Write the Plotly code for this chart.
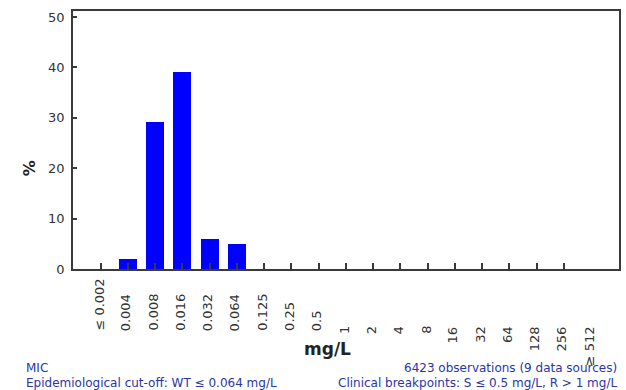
import plotly.graph_objects as go

# MIC distribution (percent of isolates per concentration class)
mic_labels = ["≤ 0.002", "0.004", "0.008", "0.016", "0.032", "0.064", "0.125", "0.25", "0.5",
              "1", "2", "4", "8", "16", "32", "64", "128", "256", "≥ 512"]
percent = [0, 2.0, 29.1, 39.1, 5.9, 4.9, 0, 0, 0,
           0, 0, 0, 0, 0, 0, 0, 0, 0, 0]
y_ticks = [0, 10, 20, 30, 40, 50]

note_left = ["MIC", "Epidemiological cut-off: WT ≤ 0.064 mg/L"]
note_right = ["6423 observations (9 data sources)", "Clinical breakpoints: S ≤ 0.5 mg/L, R > 1 mg/L"]

positions = list(range(len(mic_labels)))

W, H = 626, 390
M_L, M_R, M_T, M_B = 73, 5, 11, 121
PLOT_H = H - M_T - M_B
AXIS_COL = "#3a3a3a"
TXT_COL = "#2a35a8"
TICK_FONT = dict(family="DejaVu Sans", size=13, color="#333333")


def py(pixel_y):
    """Paper y coordinate for a pixel row in the page."""
    return (H - M_B - pixel_y) / PLOT_H


def px(pixel_x):
    return (pixel_x - M_L) / (W - M_L - M_R)


fig = go.Figure()
fig.add_trace(go.Bar(
    x=positions, y=percent, width=0.66,
    marker=dict(color="#0000ff", line=dict(width=0)),
    hoverinfo="skip",
))

annotations = []
# rotated concentration labels: decimals sit on a common baseline, integers hang from a common top
for i, lab in enumerate(mic_labels):
    is_decimal = "." in lab
    annotations.append(dict(
        x=i, xref="x", y=py(333 if is_decimal else 324), yref="paper",
        text=lab, textangle=-90, showarrow=False,
        xanchor="center", yanchor="bottom" if is_decimal else "top",
        xshift=-2, font=TICK_FONT,
    ))

annotations.append(dict(
    x=px(328), xref="paper", y=py(349), yref="paper", text="<b>mg/L</b>",
    showarrow=False, xanchor="center", yanchor="middle",
    font=dict(family="DejaVu Sans", size=17, color="#222222"),
))
annotations.append(dict(
    x=px(29), xref="paper", y=py(168), yref="paper", text="<b>%</b>", textangle=-90,
    showarrow=False, xanchor="center", yanchor="middle",
    font=dict(family="DejaVu Sans", size=16, color="#222222"),
))

for k, (lt, rt) in enumerate(zip(note_left, note_right)):
    yy = py(368 + 15 * k)
    annotations.append(dict(
        x=px(24), xref="paper", y=yy, yref="paper", text=lt, showarrow=False,
        xanchor="left", yanchor="middle",
        font=dict(family="DejaVu Sans", size=12, color=TXT_COL),
    ))
    annotations.append(dict(
        x=px(621), xref="paper", y=yy, yref="paper", text=rt, showarrow=False,
        xanchor="right", yanchor="middle",
        font=dict(family="DejaVu Sans", size=12, color=TXT_COL),
    ))

fig.update_layout(
    width=W, height=H,
    margin=dict(l=M_L, r=M_R, t=M_T, b=M_B, pad=0),
    paper_bgcolor="white", plot_bgcolor="white",
    showlegend=False,
    bargap=0,
    annotations=annotations,
    xaxis=dict(
        range=[-1.013, 19.02], tickmode="array", tickvals=positions[:-1],
        showticklabels=False, ticks="inside", ticklen=6, tickwidth=1.5, tickcolor=AXIS_COL,
        showline=True, linecolor=AXIS_COL, linewidth=1.5, mirror=True,
        showgrid=False, zeroline=False, fixedrange=True,
    ),
    yaxis=dict(
        range=[0, 51.2], tickvals=y_ticks, ticks="inside", ticklen=4, tickwidth=1.5,
        tickcolor=AXIS_COL, tickfont=TICK_FONT, ticklabelstandoff=4,
        showline=True, linecolor=AXIS_COL, linewidth=1.5, mirror=True,
        showgrid=False, zeroline=False, fixedrange=True,
    ),
)

fig.write_html("out.html", config={"displayModeBar": False})
